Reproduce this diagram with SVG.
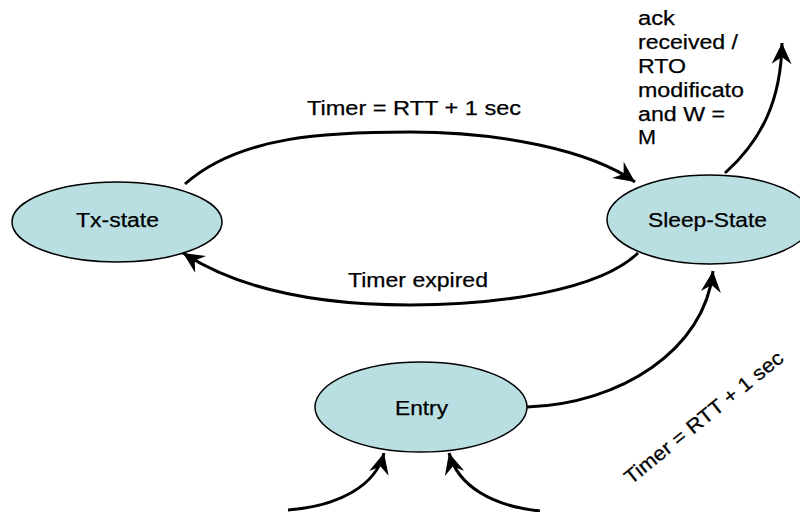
<svg xmlns="http://www.w3.org/2000/svg" width="800" height="512" viewBox="0 0 800 512">
  <style>
    .state { fill: #b9dfe2; stroke: #000; stroke-width: 1.5; }
    .label { font-family: "Liberation Sans", Arial, sans-serif; font-size: 20px; fill: #000; stroke: #000; stroke-width: 0.25; }
    .edge { fill: none; stroke: #000; stroke-width: 3; marker-end: url(#arrow); }
  </style>
  <defs>
    <marker id="arrow" markerUnits="userSpaceOnUse" markerWidth="26" markerHeight="24" viewBox="-23 -12 25 24" refX="0" refY="0" orient="auto">
      <path d="M0,0 L-21,-10 L-14,0 L-21,10 Z" fill="#000"/>
    </marker>
  </defs>
  <rect width="800" height="512" fill="#fff"/>

  <!-- states -->
  <g id="tx-state">
    <ellipse class="state" cx="117" cy="222" rx="105" ry="40"/>
    <text class="label" x="76" y="227" textLength="83" lengthAdjust="spacingAndGlyphs">Tx-state</text>
  </g>
  <g id="sleep-state">
    <ellipse class="state" cx="710" cy="219.5" rx="103" ry="44.5"/>
    <text class="label" x="648" y="227" textLength="119" lengthAdjust="spacingAndGlyphs">Sleep-State</text>
  </g>
  <g id="entry">
    <ellipse class="state" cx="421" cy="407" rx="106" ry="45"/>
    <text class="label" x="395" y="415" textLength="53" lengthAdjust="spacingAndGlyphs">Entry</text>
  </g>

  <!-- transitions -->
  <g id="connectors">
    <path class="edge" d="M185,184 C240,135 330,132 410,132 C500,132 590,150 635,182"/>
    <path class="edge" d="M638,253 C600,290 500,305 410,305 C320,305 240,290 183,253"/>
    <path class="edge" d="M527,407 C620,404 705,350 713,271"/>
    <path class="edge" d="M725,173 C762,140 781,100 782,43"/>
    <path class="edge" d="M288,510 C340,506 376,485 384,453"/>
    <path class="edge" d="M540,511 C492,506 458,486 449,453"/>
  </g>

  <!-- transition labels -->
  <g id="labels">
    <text class="label" x="307" y="115" textLength="214" lengthAdjust="spacingAndGlyphs">Timer = RTT + 1 sec</text>
    <text class="label" x="348" y="287" textLength="140" lengthAdjust="spacingAndGlyphs">Timer expired</text>
    <text class="label" transform="translate(631,485) rotate(-39)" textLength="198" lengthAdjust="spacingAndGlyphs">Timer = RTT + 1 sec</text>
    <text class="label" x="638" y="25" textLength="37" lengthAdjust="spacingAndGlyphs">ack</text>
    <text class="label" x="638" y="49" textLength="100" lengthAdjust="spacingAndGlyphs">received /</text>
    <text class="label" x="638" y="73" textLength="48" lengthAdjust="spacingAndGlyphs">RTO</text>
    <text class="label" x="638" y="97" textLength="106" lengthAdjust="spacingAndGlyphs">modificato</text>
    <text class="label" x="638" y="121" textLength="87" lengthAdjust="spacingAndGlyphs">and W =</text>
    <text class="label" x="638" y="144" textLength="18" lengthAdjust="spacingAndGlyphs">M</text>
  </g>
</svg>
